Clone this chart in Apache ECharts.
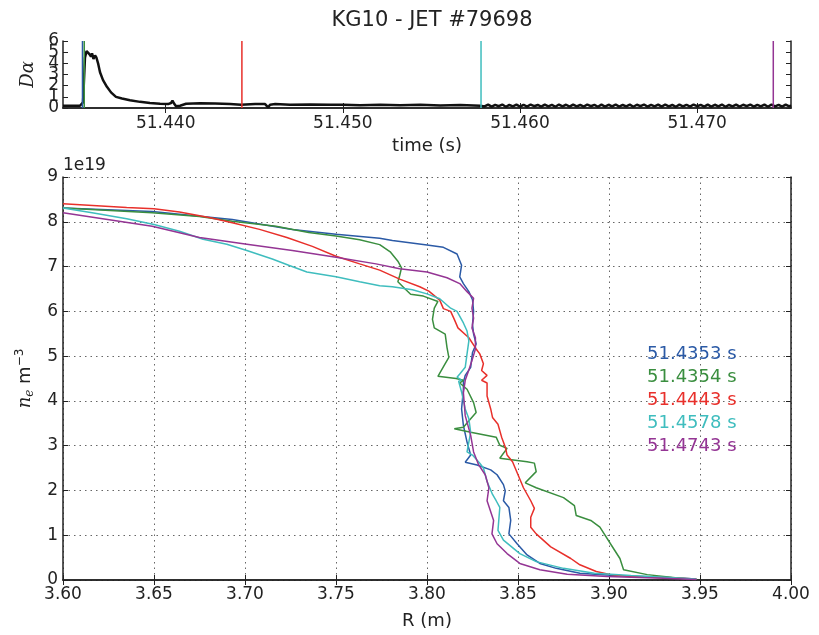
<!DOCTYPE html>
<html><head><meta charset="utf-8">
<script src="https://cdn.jsdelivr.net/npm/echarts@6/dist/echarts.min.js"></script>
<style>html,body{margin:0;padding:0;background:#fff}#c{width:819px;height:635px}</style>
</head><body><div id="c"></div>
<script>
const titleText = 'KG10 - JET #79698';
const profileTimes = [51.4353, 51.4354, 51.4443, 51.4578, 51.4743];
const profileLabels = ['51.4353 s', '51.4354 s', '51.4443 s', '51.4578 s', '51.4743 s'];
const profileColors = ['#2b5aa6', '#3a8e3f', '#e8302b', '#3fbdbe', '#943594'];

// D-alpha trace (top panel)
const dalphaTime = [51.43420, 51.43459, 51.43516, 51.43524, 51.43533, 51.43544, 51.43553, 51.43561, 51.43570, 51.43578,
  51.43584, 51.43592, 51.43601, 51.43609, 51.43618, 51.43629, 51.43646, 51.43668, 51.43691, 51.43719,
  51.43753, 51.43798, 51.43855, 51.43911, 51.43968, 51.44013, 51.44030, 51.44038, 51.44047, 51.44058,
  51.44081, 51.44115, 51.44194, 51.44279, 51.44363, 51.44425, 51.44505, 51.44561, 51.44578, 51.44589,
  51.44618, 51.44702, 51.44815, 51.44928, 51.45002, 51.45098, 51.45211, 51.45324, 51.45437, 51.45550,
  51.45663, 51.45776,
  51.4580, 51.4582, 51.4584, 51.4586, 51.4588, 51.4590, 51.4592, 51.4594, 51.4596, 51.4598,
  51.4600, 51.4602, 51.4604, 51.4606, 51.4608, 51.4610, 51.4612, 51.4614, 51.4616, 51.4618,
  51.4620, 51.4622, 51.4624, 51.4626, 51.4628, 51.4630, 51.4632, 51.4634, 51.4636, 51.4638,
  51.4640, 51.4642, 51.4644, 51.4646, 51.4648, 51.4650, 51.4652, 51.4654, 51.4656, 51.4658,
  51.4660, 51.4662, 51.4664, 51.4666, 51.4668, 51.4670, 51.4672, 51.4674, 51.4676, 51.4678,
  51.4680, 51.4682, 51.4684, 51.4686, 51.4688, 51.4690, 51.4692, 51.4694, 51.4696, 51.4698,
  51.4700, 51.4702, 51.4704, 51.4706, 51.4708, 51.4710, 51.4712, 51.4714, 51.4716, 51.4718,
  51.4720, 51.4722, 51.4724, 51.4726, 51.4728, 51.4730, 51.4732, 51.4734, 51.4736, 51.4738,
  51.4740, 51.4742, 51.4744, 51.4746, 51.4748, 51.4750, 51.4752, 51.4753];
const dalphaValue = [0.20, 0.20, 0.20, 0.25, 0.50, 4.50, 5.10, 5.20, 4.80, 4.60,
  4.90, 4.40, 4.70, 4.50, 4.00, 3.20, 2.50, 1.90, 1.40, 1.00,
  0.85, 0.70, 0.55, 0.45, 0.38, 0.35, 0.45, 0.65, 0.40, 0.15,
  0.20, 0.38, 0.42, 0.40, 0.35, 0.30, 0.35, 0.35, 0.05, 0.30,
  0.35, 0.30, 0.32, 0.28, 0.30, 0.25, 0.30, 0.25, 0.30, 0.22,
  0.27, 0.20,
  0.14, 0.30, 0.12, 0.28, 0.16, 0.31, 0.11, 0.27, 0.15, 0.30,
  0.13, 0.29, 0.12, 0.31, 0.16, 0.27, 0.12, 0.30, 0.14, 0.28,
  0.11, 0.31, 0.15, 0.29, 0.12, 0.30, 0.14, 0.27, 0.12, 0.31,
  0.16, 0.28, 0.11, 0.30, 0.13, 0.29, 0.15, 0.31, 0.12, 0.27,
  0.14, 0.30, 0.11, 0.29, 0.16, 0.31, 0.12, 0.28, 0.14, 0.30,
  0.12, 0.31, 0.15, 0.27, 0.11, 0.30, 0.14, 0.29, 0.12, 0.31,
  0.16, 0.28, 0.12, 0.30, 0.13, 0.29, 0.15, 0.31, 0.11, 0.27,
  0.14, 0.30, 0.12, 0.29, 0.16, 0.31, 0.12, 0.28, 0.14, 0.30,
  0.11, 0.31, 0.15, 0.28, 0.12, 0.30, 0.14, 0.25];

// density profiles, R in m, n_e in 1e19 m^-3
const r_4353 = [3.600, 3.649, 3.693, 3.726, 3.750, 3.774, 3.781, 3.800, 3.809, 3.8165, 3.819, 3.818, 3.820, 3.823, 3.825, 3.8256, 3.825, 3.8256, 3.827, 3.825, 3.824, 3.821, 3.820, 3.820, 3.819, 3.820, 3.822, 3.824, 3.821, 3.8275, 3.835, 3.8385, 3.842, 3.843, 3.842, 3.845, 3.846, 3.845, 3.8495, 3.855, 3.862, 3.871, 3.884, 3.903, 3.930, 3.948];
const ne_4353 = [8.31, 8.23, 8.05, 7.83, 7.72, 7.63, 7.58, 7.48, 7.43, 7.28, 7.03, 6.77, 6.62, 6.44, 6.26, 6.00, 5.71, 5.49, 5.27, 5.08, 4.75, 4.57, 4.42, 4.26, 3.82, 3.45, 3.08, 2.79, 2.63, 2.57, 2.46, 2.35, 2.13, 1.99, 1.77, 1.62, 1.33, 1.03, 0.81, 0.56, 0.37, 0.26, 0.15, 0.10, 0.06, 0.02];

const r_4354 = [3.600, 3.649, 3.675, 3.693, 3.717, 3.735, 3.750, 3.763, 3.774, 3.780, 3.784, 3.786, 3.785, 3.784, 3.788, 3.791, 3.798, 3.806, 3.804, 3.803, 3.804, 3.810, 3.811, 3.812, 3.810, 3.806, 3.816, 3.820, 3.818, 3.822, 3.8256, 3.827, 3.824, 3.820, 3.815, 3.824, 3.838, 3.840, 3.844, 3.840, 3.855, 3.859, 3.860, 3.854, 3.860, 3.875, 3.881, 3.882, 3.890, 3.895, 3.903, 3.906, 3.908, 3.921, 3.939, 3.948];
const ne_4354 = [8.31, 8.20, 8.12, 8.01, 7.90, 7.76, 7.68, 7.60, 7.49, 7.32, 7.12, 6.97, 6.80, 6.66, 6.50, 6.38, 6.34, 6.22, 6.07, 5.82, 5.63, 5.49, 5.19, 4.97, 4.83, 4.55, 4.50, 4.46, 4.40, 4.26, 3.96, 3.74, 3.60, 3.41, 3.38, 3.30, 3.19, 3.01, 2.94, 2.72, 2.64, 2.61, 2.42, 2.17, 2.06, 1.84, 1.66, 1.44, 1.33, 1.18, 0.67, 0.48, 0.23, 0.12, 0.04, 0.01];

const r_4443 = [3.600, 3.635, 3.650, 3.664, 3.681, 3.693, 3.708, 3.723, 3.737, 3.750, 3.763, 3.774, 3.785, 3.796, 3.801, 3.807, 3.809, 3.813, 3.815, 3.817, 3.823, 3.827, 3.829, 3.831, 3.830, 3.833, 3.830, 3.833, 3.833, 3.835, 3.836, 3.839, 3.841, 3.843, 3.844, 3.847, 3.850, 3.853, 3.857, 3.859, 3.857, 3.857, 3.860, 3.868, 3.879, 3.884, 3.893, 3.901, 3.912, 3.939, 3.948];
const ne_4443 = [8.40, 8.32, 8.29, 8.22, 8.09, 7.98, 7.83, 7.65, 7.45, 7.23, 7.06, 6.92, 6.72, 6.55, 6.45, 6.25, 6.06, 6.00, 5.82, 5.63, 5.41, 5.16, 5.05, 4.83, 4.68, 4.57, 4.46, 4.40, 4.11, 3.82, 3.63, 3.48, 3.19, 2.97, 2.79, 2.64, 2.35, 2.06, 1.77, 1.60, 1.40, 1.18, 1.03, 0.74, 0.48, 0.34, 0.19, 0.12, 0.08, 0.04, 0.02];

const r_4578 = [3.600, 3.616, 3.635, 3.650, 3.664, 3.677, 3.690, 3.701, 3.715, 3.724, 3.734, 3.750, 3.763, 3.774, 3.781, 3.792, 3.800, 3.807, 3.813, 3.8165, 3.820, 3.822, 3.823, 3.822, 3.821, 3.818, 3.8165, 3.819, 3.8174, 3.819, 3.821, 3.823, 3.824, 3.822, 3.825, 3.829, 3.831, 3.833, 3.836, 3.838, 3.840, 3.839, 3.842, 3.851, 3.860, 3.875, 3.892, 3.912, 3.948];
const ne_4578 = [8.31, 8.20, 8.07, 7.94, 7.79, 7.61, 7.50, 7.36, 7.17, 7.03, 6.88, 6.77, 6.66, 6.57, 6.55, 6.48, 6.39, 6.28, 6.07, 6.00, 5.74, 5.56, 5.34, 5.05, 4.75, 4.60, 4.53, 4.46, 4.44, 4.20, 3.82, 3.60, 3.30, 2.86, 2.79, 2.61, 2.50, 2.20, 1.91, 1.77, 1.62, 1.11, 0.89, 0.59, 0.41, 0.26, 0.15, 0.10, 0.02];

const r_4743 = [3.600, 3.649, 3.675, 3.701, 3.726, 3.750, 3.772, 3.785, 3.800, 3.811, 3.818, 3.822, 3.8256, 3.8247, 3.8256, 3.8247, 3.8266, 3.8266, 3.8247, 3.8229, 3.821, 3.820, 3.821, 3.824, 3.8256, 3.8284, 3.832, 3.834, 3.833, 3.8366, 3.8357, 3.8385, 3.844, 3.851, 3.862, 3.877, 3.899, 3.930, 3.948];
const ne_4743 = [8.20, 7.90, 7.65, 7.50, 7.36, 7.21, 7.06, 6.95, 6.88, 6.75, 6.62, 6.44, 6.29, 6.07, 5.85, 5.63, 5.41, 5.16, 4.90, 4.68, 4.46, 4.18, 3.67, 3.23, 2.86, 2.57, 2.35, 2.06, 1.77, 1.33, 1.03, 0.81, 0.59, 0.37, 0.23, 0.13, 0.08, 0.04, 0.01];

const profilesR = [r_4353, r_4354, r_4443, r_4578, r_4743];
const profilesNe = [ne_4353, ne_4354, ne_4443, ne_4578, ne_4743];

const timeTicks = [51.44, 51.45, 51.46, 51.47];
const timeMin = 51.4342, timeMax = 51.4753;
const dalphaMin = 0, dalphaMax = 6;
const dalphaEvenTicks = [0, 2, 4, 6];
const dalphaOddTicks = [1, 3, 5];
const rMin = 3.60, rMax = 4.00, rStep = 0.05;
const neMin = 0, neMax = 9, neStep = 1;

const FONT = 'DejaVu Sans';
const AX = '#222';
const chart = echarts.init(document.getElementById('c'), null, {renderer: 'canvas'});

const grid0 = {left: 63, top: 41, width: 728, height: 67};
const grid1 = {left: 63, top: 177, width: 728, height: 410};

const tickIn = {show: true, inside: true, length: 5, lineStyle: {color: AX, width: 1}};
const axLine = {show: true, lineStyle: {color: AX, width: 1.5}};
const lbl = {color: '#222', fontSize: 17, fontFamily: FONT};
const gridDots = {show: true, lineStyle: {color: '#666', type: [1.5, 4], width: 1}};

const profileSeries = profileLabels.map((name, i) => ({
  name: name, type: 'line', xAxisIndex: 2, yAxisIndex: 2,
  data: profilesR[i].map((r, j) => [r, profilesNe[i][j]]),
  showSymbol: false, symbol: 'none',
  lineStyle: {color: profileColors[i], width: 1.5},
  itemStyle: {color: profileColors[i]},
  z: 3 + i, silent: true
}));

const timeMarkerSeries = profileTimes.map((t, i) => ({
  name: 'marker ' + profileLabels[i], type: 'line', xAxisIndex: 0, yAxisIndex: 0,
  data: [[t, dalphaMin], [t, dalphaMax]],
  showSymbol: false, symbol: 'none', silent: true,
  lineStyle: {color: profileColors[i], width: 1.5}, z: 4
}));

chart.setOption({
  animation: false,
  backgroundColor: '#fff',
  title: {text: titleText, left: 427, textAlign: 'center', top: 5,
    textStyle: {fontFamily: FONT, fontWeight: 'normal', fontSize: 21, color: '#222'}},
  grid: [grid0, grid1],
  legend: {
    orient: 'vertical', left: 637, top: 340, itemGap: 5, icon: 'none',
    itemWidth: 0, itemHeight: 18, selectedMode: false,
    textStyle: {fontFamily: FONT, fontSize: 18},
    data: profileLabels.map((n, i) => ({name: n, textStyle: {color: profileColors[i]}}))
  },
  xAxis: [
    {type: 'value', gridIndex: 0, min: timeMin, max: timeMax, position: 'bottom',
      axisLine: axLine, axisTick: Object.assign({}, tickIn, {customValues: timeTicks}),
      axisLabel: Object.assign({}, lbl, {customValues: timeTicks, margin: 7, formatter: v => v.toFixed(3)}),
      splitLine: {show: false},
      name: 'time (s)', nameLocation: 'middle', nameGap: 29,
      nameTextStyle: {fontFamily: FONT, fontSize: 18, color: '#222'}},
    {type: 'value', gridIndex: 0, min: timeMin, max: timeMax, position: 'top',
      axisLine: axLine, axisTick: Object.assign({}, tickIn, {customValues: timeTicks}),
      axisLabel: {show: false}, splitLine: {show: false}},
    {type: 'value', gridIndex: 1, min: rMin, max: rMax, interval: rStep, position: 'bottom',
      axisLine: axLine, axisTick: tickIn,
      axisLabel: Object.assign({}, lbl, {margin: 6, formatter: v => v.toFixed(2)}),
      splitLine: gridDots,
      name: 'R (m)', nameLocation: 'middle', nameGap: 32,
      nameTextStyle: {fontFamily: FONT, fontSize: 18, color: '#222'}},
    {type: 'value', gridIndex: 1, min: rMin, max: rMax, interval: rStep, position: 'top',
      axisLine: axLine, axisTick: tickIn, axisLabel: {show: false}, splitLine: {show: false}}
  ],
  yAxis: [
    {type: 'value', gridIndex: 0, min: dalphaMin, max: dalphaMax, interval: 1, position: 'left',
      axisLine: axLine, axisTick: tickIn,
      axisLabel: Object.assign({}, lbl, {margin: 4, customValues: dalphaEvenTicks}),
      splitLine: {show: false},
      name: 'Dα', nameLocation: 'middle', nameGap: 22, nameRotate: 90,
      nameTextStyle: {fontFamily: 'DejaVu Serif', fontStyle: 'italic', fontSize: 18, color: '#222'}},
    {type: 'value', gridIndex: 0, min: dalphaMin, max: dalphaMax, interval: 1, position: 'right',
      axisLine: axLine, axisTick: tickIn, axisLabel: {show: false}, splitLine: {show: false}},
    {type: 'value', gridIndex: 1, min: neMin, max: neMax, interval: neStep, position: 'left',
      axisLine: axLine, axisTick: tickIn,
      axisLabel: Object.assign({}, lbl, {margin: 5, showMinLabel: true, showMaxLabel: true}),
      splitLine: gridDots,
      name: '{n|n}{e|e}{m| m}{s|−3}', nameLocation: 'middle', nameGap: 12, nameRotate: 90,
      nameTextStyle: {color: '#222', fontFamily: FONT, fontSize: 18,
        rich: {
          n: {fontFamily: 'DejaVu Serif', fontStyle: 'italic', fontSize: 18, color: '#222'},
          e: {fontFamily: 'DejaVu Serif', fontStyle: 'italic', fontSize: 12, color: '#222', padding: [9, 0, 0, 0]},
          m: {fontFamily: FONT, fontSize: 18, color: '#222'},
          s: {fontFamily: FONT, fontSize: 12, color: '#222', padding: [0, 0, 11, 0]}
        }}},
    {type: 'value', gridIndex: 1, min: neMin, max: neMax, interval: neStep, position: 'right',
      axisLine: axLine, axisTick: tickIn, axisLabel: {show: false}, splitLine: {show: false}},
    {type: 'value', gridIndex: 0, min: dalphaMin, max: dalphaMax, interval: 1, position: 'left',
      axisLine: {show: false}, axisTick: {show: false},
      axisLabel: Object.assign({}, lbl, {margin: 4, customValues: dalphaOddTicks}),
      splitLine: {show: false}}
  ],
  graphic: [
    {type: 'text', left: 63, top: 157, silent: true,
      style: {text: '1e19', fontFamily: FONT, fontSize: 17, fill: '#222'}}
  ],
  series: [
    {name: 'Dalpha', type: 'line', xAxisIndex: 0, yAxisIndex: 0,
      data: dalphaTime.map((t, i) => [t, dalphaValue[i]]),
      showSymbol: false, symbol: 'none', silent: true,
      lineStyle: {color: '#111', width: 2.5}, z: 3}
  ].concat(timeMarkerSeries, profileSeries)
});
</script>
</body></html>
